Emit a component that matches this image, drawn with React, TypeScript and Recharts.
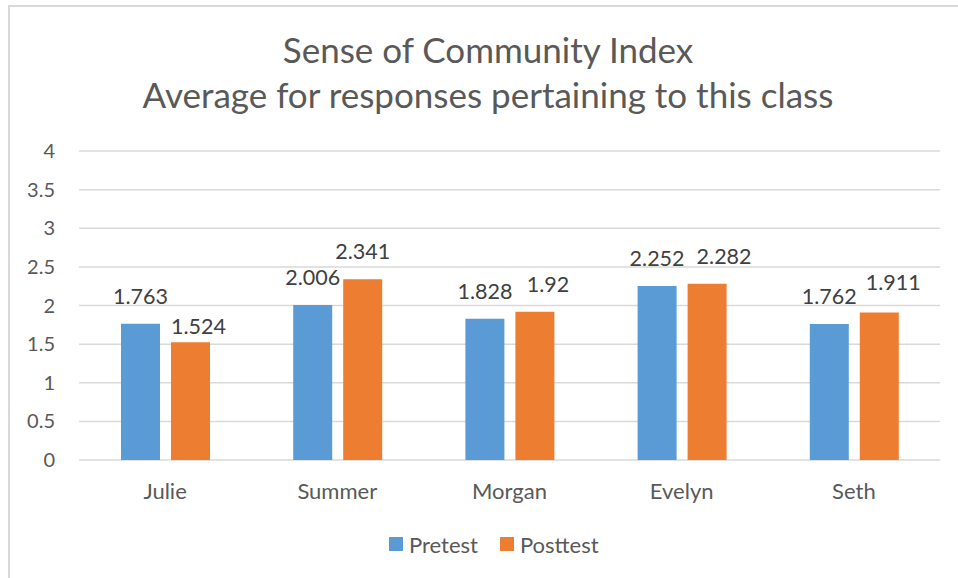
import { BarChart, Bar, XAxis, YAxis, CartesianGrid, Legend, LabelList } from "recharts";

const categories = ["Julie", "Summer", "Morgan", "Evelyn", "Seth"];
const pretest = [1.763, 2.006, 1.828, 2.252, 1.762];
const posttest = [1.524, 2.341, 1.92, 2.282, 1.911];
const yTicks = [0, 0.5, 1, 1.5, 2, 2.5, 3, 3.5, 4];

// Excel nudged some posttest labels sideways to avoid overlaps
const postLabelDx = [8, 0, 13, 17, 14];
const postLabelDy = [12, 0, 0, 0, -2];

const FONT = "Lato, 'Open Sans', sans-serif";
const BLUE = "#5B9BD5";
const ORANGE = "#ED7D31";

const chartData = categories.map((name, i) => ({
  name,
  Pretest: pretest[i],
  Posttest: posttest[i],
}));

function makeLabel(dxs?: number[], dys?: number[]) {
  return (props: any) => {
    const { x, y, width, value, index } = props;
    const dx = dxs ? dxs[index] : 0;
    const dy = dys ? dys[index] : 0;
    return (
      <text
        x={x + width / 2 + dx}
        y={y - 20 + dy}
        textAnchor="middle"
        fill="#404040"
        fontSize={21.5}
        fontFamily={FONT}
      >
        {value}
      </text>
    );
  };
}

function LegendBox() {
  const items = [
    { label: "Pretest", color: BLUE },
    { label: "Posttest", color: ORANGE },
  ];
  return (
    <div style={{ display: "flex", paddingLeft: 389, height: 30, alignItems: "center" }}>
      {items.map((it) => (
        <div key={it.label} style={{ display: "flex", alignItems: "center", marginRight: 22 }}>
          <span style={{ width: 14, height: 14, background: it.color, marginRight: 6 }} />
          <span style={{ fontSize: 22, color: "#595959", fontFamily: FONT }}>{it.label}</span>
        </div>
      ))}
    </div>
  );
}

export default function App() {
  return (
    <div style={{ position: "absolute", left: 0, top: 0, width: 958, height: 578, background: "#fff", fontFamily: FONT }}>
      <div
        style={{
          position: "absolute",
          left: 8,
          top: 5,
          right: 0,
          bottom: 0,
          borderLeft: "2px solid #d9d9d9",
          borderTop: "2px solid #d9d9d9",
        }}
      />
      <div
        style={{
          position: "absolute",
          left: 0,
          top: 27,
          width: 976,
          textAlign: "center",
          fontSize: 35,
          lineHeight: "45px",
          color: "#595959",
        }}
      >
        <div>Sense of Community Index</div>
        <div>Average for responses pertaining to this class</div>
      </div>
      <BarChart
        width={958}
        height={578}
        data={chartData}
        margin={{ top: 151, right: 18, left: 0, bottom: 19 }}
        barCategoryGap={42}
        barGap={11}
      >
        <CartesianGrid vertical={false} stroke="#d9d9d9" strokeWidth={1.5} />
        <XAxis
          dataKey="name"
          axisLine={false}
          tickLine={false}
          tickSize={0}
          tickMargin={23}
          height={69}
          tick={{ fill: "#595959", fontSize: 22, fontFamily: FONT }}
        />
        <YAxis
          domain={[0, 4]}
          ticks={yTicks}
          axisLine={false}
          tickLine={false}
          tickSize={0}
          tickMargin={24}
          width={79}
          tick={{ fill: "#595959", fontSize: 20, fontFamily: FONT }}
        />
        <Legend verticalAlign="bottom" content={() => <LegendBox />} wrapperStyle={{ left: 0, width: 958 }} />
        <Bar dataKey="Pretest" fill={BLUE} isAnimationActive={false}>
          <LabelList dataKey="Pretest" content={makeLabel()} />
        </Bar>
        <Bar dataKey="Posttest" fill={ORANGE} isAnimationActive={false}>
          <LabelList dataKey="Posttest" content={makeLabel(postLabelDx, postLabelDy)} />
        </Bar>
      </BarChart>
    </div>
  );
}
